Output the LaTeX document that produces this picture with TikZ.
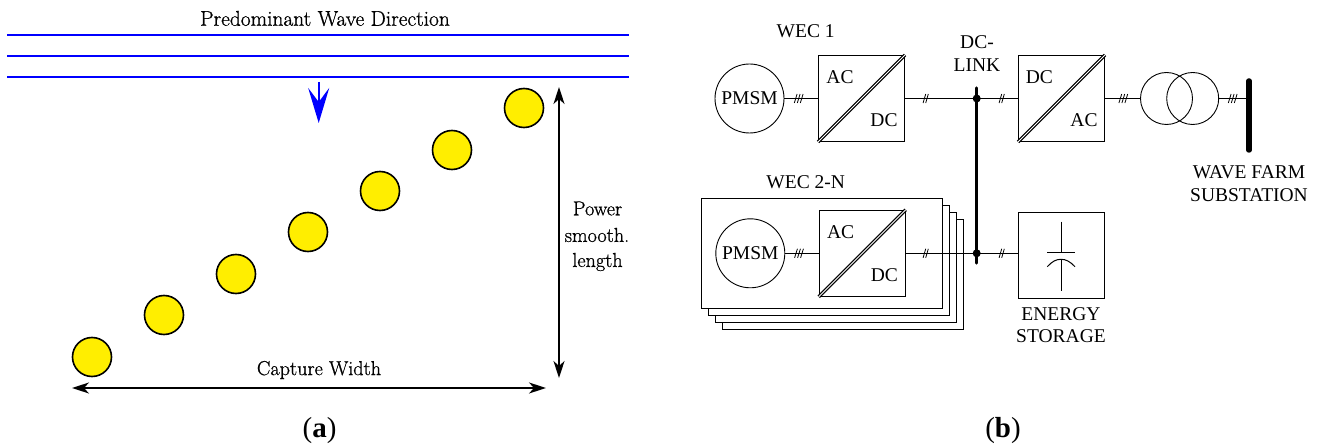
\documentclass[tikz,border=0pt]{standalone}
\usepackage{fontspec}
\usetikzlibrary{arrows.meta}
\newfontfamily\tnr{Liberation Serif}
\newfontfamily\cmheavy[FakeBold=0.8]{Latin Modern Roman}
\definecolor{wecyellow}{HTML}{FFEE00}
\tikzset{
  wave/.style={draw=blue,line width=1.7pt},
  wec/.style={circle,draw=black,line width=1.6pt,fill=wecyellow,minimum size=39pt,inner sep=0pt},
  dim/.style={draw=black,line width=1.8pt,{Stealth[length=17pt,width=11pt,inset=5pt]}-{Stealth[length=17pt,width=11pt,inset=5pt]}},
  cmlabel/.style={inner sep=0pt,font=\cmheavy\fontsize{20.2}{24}\selectfont,anchor=center},
  txt/.style={inner sep=0pt,font=\tnr\fontsize{19.5}{22}\selectfont,anchor=center,align=center},
  sub/.style={inner sep=0pt,font=\tnr\fontsize{29}{32}\selectfont,anchor=center},
  wire/.style={draw=black,line width=1pt},
  mach/.style={circle,draw=black,line width=0.9pt,fill=white,minimum size=69pt,inner sep=0pt,font=\tnr\fontsize{19.5}{22}\selectfont},
  conv/.style={rectangle,draw=black,line width=1pt,fill=white,minimum size=86pt,inner sep=0pt},
  stackbox/.style={rectangle,draw=black,line width=0.9pt,fill=white,minimum width=241pt,minimum height=110pt,inner sep=0pt},
  trafo/.style={circle,draw=black,line width=0.9pt,minimum size=52pt,inner sep=0pt},
  bus/.style={draw=black,line width=3.2pt,line cap=round},
  dot/.style={circle,fill=black,minimum size=8pt,inner sep=0pt},
  tickline/.style={draw=black,line width=0.8pt},
  twotick/.pic={\draw[tickline] (-2.6,4.5) -- (0,-4.5) (0,4.5) -- (2.6,-4.5);},
  threetick/.pic={\draw[tickline] (-4.4,4.5) -- (-1.6,-4.5) (-1.4,4.5) -- (1.4,-4.5) (1.6,4.5) -- (4.4,-4.5);},
}
\newcommand{\slashdiag}[1]{%
  \draw[black,line width=3.4pt] (#1.south west) -- (#1.north east);
  \draw[white,line width=1pt] (#1.south west) -- (#1.north east);}
\begin{document}
\begin{tikzpicture}[x=1pt,y=-1pt]
\useasboundingbox (0,0) rectangle (1323,446);
% (a)
\coordinate (wl1) at (7,35); \coordinate (wr1) at (629,35);
\coordinate (wl2) at (7,56); \coordinate (wr2) at (629,56);
\coordinate (wl3) at (7,77); \coordinate (wr3) at (629,77);
\draw[wave] (wl1) -- (wr1);
\draw[wave] (wl2) -- (wr2);
\draw[wave] (wl3) -- (wr3);
\node[cmlabel,font=\cmheavy\fontsize{21.4}{24}\selectfont] (title) at (325,18.5) {Predominant Wave Direction};
\coordinate (bs) at (318.7,82); \coordinate (be) at (318.7,123);
\draw[draw=blue,line width=2pt,-{Stealth[length=35pt,width=21pt,inset=14pt,fill=blue]}] (bs) -- (be);
\node[wec] (w1) at (92,357) {};
\node[wec] (w2) at (164,315) {};
\node[wec] (w3) at (236,274) {};
\node[wec] (w4) at (308,232) {};
\node[wec] (w5) at (380,191) {};
\node[wec] (w6) at (452,150) {};
\node[wec] (w7) at (524,108) {};
\coordinate (v1) at (559,87); \coordinate (v2) at (559,378);
\draw[dim] (v1) -- (v2);
\coordinate (h1) at (72,388); \coordinate (h2) at (546,388);
\draw[dim] (h1) -- (h2);
\node[cmlabel] (pow) at (597.5,208.5) {Power};
\node[cmlabel] (smo) at (597,235) {smooth.};
\node[cmlabel] (len) at (597.5,262) {length};
\node[cmlabel] (cap) at (319,370) {Capture Width};
\node[sub] (la) at (319.5,431) {(\textbf{a})};
\node[sub] (lb) at (1003,431) {(\textbf{b})};
% (b) stacked boxes
\node[stackbox] (s4) at (843,274.3) {};
\node[stackbox] (s3) at (836,267.3) {};
\node[stackbox] (s2) at (829,260.3) {};
\node[stackbox] (s1) at (822,253.3) {};
% top row
\node[mach] (p1) at (749.5,98.5) {PMSM};
\node[conv] (c1) at (861.5,98.5) {};
\slashdiag{c1}
\node[conv] (c2) at (1061.5,98.5) {};
\slashdiag{c2}
\coordinate (j1) at (976.7,98.5);
\coordinate (b1) at (976.7,88);
\coordinate (b2) at (976.7,263);
\coordinate (j2) at (976.7,253.3);
\node[trafo] (t1) at (1166.5,98.5) {};
\node[trafo] (t2) at (1192.7,98.5) {};
\coordinate (sj) at (1249,98.5);
\coordinate (st) at (1249,81); \coordinate (sb) at (1249,150);
\draw[wire] (p1) -- (c1);
\draw[wire] (c1) -- (j1) -- (c2);
\draw[wire] (c2) -- (t1);
\draw[wire] (t2) -- (sj);
\draw[line width=5.5pt,line cap=round] (st) -- (sb);
% bottom row
\node[mach] (p2) at (750.3,253.3) {PMSM};
\node[conv] (c3) at (862.2,253.3) {};
\slashdiag{c3}
\node[conv] (es) at (1061.5,255.2) {};
\draw[wire] (p2) -- (c3);
\draw[wire] (c3) -- (j2);
\draw[wire] (j2) -- (es.west |- j2);
\draw[bus] (b1) -- (b2);
\node[dot] (d1) at (j1) {};
\node[dot] (d2) at (j2) {};
% capacitor
\coordinate (ct) at (1061,221.7); \coordinate (cb) at (1061,252.7);
\coordinate (cl) at (1047.3,252.7); \coordinate (cr) at (1075,252.7);
\coordinate (al) at (1047.3,266.7); \coordinate (ar) at (1075,266.7);
\coordinate (am) at (1061,259.3); \coordinate (ae) at (1061,290.7);
\draw[wire] (ct) -- (cb);
\draw[wire] (cl) -- (cr);
\draw[wire] (al) .. controls (1052,261.5) and (1056,259.3) .. (am) .. controls (1066,259.3) and (1070,261.5) .. (ar);
\draw[wire] (am) -- (ae);
% ticks
\pic at (798.7,98.5) {threetick};
\pic at (925.7,98.5) {twotick};
\pic at (1001.7,98.5) {twotick};
\pic at (1123.3,98.5) {threetick};
\pic at (1232.7,98.5) {threetick};
\pic at (799,253.3) {threetick};
\pic at (925.7,253.3) {twotick};
\pic at (1001.7,253.3) {twotick};
% text
\node[txt] (tw1) at (805.7,30.7) {WEC 1};
\node[txt] (tw2) at (805.7,182) {WEC 2-N};
\node[txt] (tdc1) at (977,42) {DC-};
\node[txt] (tdc2) at (977,65) {LINK};
\node[txt] (a1) at (840,76.7) {AC};
\node[txt] (d1t) at (884,120) {DC};
\node[txt] (a2) at (1084,120) {AC};
\node[txt] (d2t) at (1039.3,76.7) {DC};
\node[txt] (a3) at (840.7,231.7) {AC};
\node[txt] (d3t) at (884.3,275) {DC};
\node[txt] (f1) at (1249,172.7) {WAVE FARM};
\node[txt] (f2) at (1249,195) {SUBSTATION};
\node[txt] (e1) at (1061,314) {ENERGY};
\node[txt] (e2) at (1061,336) {STORAGE};
\end{tikzpicture}
\end{document}
